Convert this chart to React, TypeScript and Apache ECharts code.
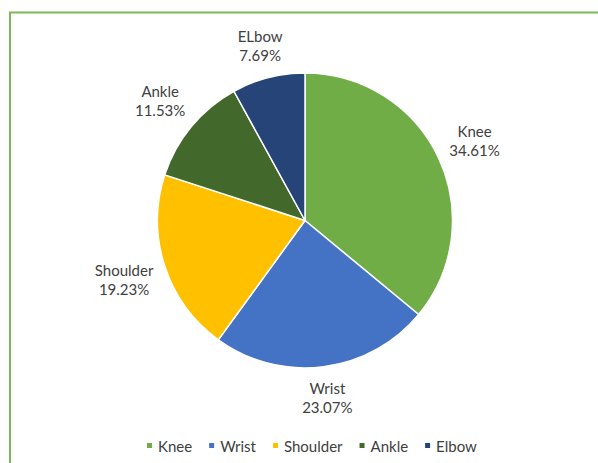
import React, { useEffect, useRef } from "react";
import * as echarts from "echarts";

const categories = ["Knee", "Wrist", "Shoulder", "Ankle", "Elbow"];
const labelNames = ["Knee", "Wrist", "Shoulder", "Ankle", "ELbow"];
const values = [34.61, 23.07, 19.23, 11.53, 7.69];
const colors = ["#70AD47", "#4472C4", "#FFC000", "#43682B", "#264478"];

const CX = 305;
const CY = 220.5;
const R = 147.5;
const GAP = 9;
const FONT = "Lato, 'Open Sans', sans-serif";

export default function App() {
  const ref = useRef<HTMLDivElement>(null);
  useEffect(() => {
    if (!ref.current) return;
    const chart = echarts.init(ref.current, undefined, { renderer: "svg" });
    const total = values.reduce((a, b) => a + b, 0);
    chart.setOption({
      animation: false,
      backgroundColor: "#ffffff",
      color: colors,
      graphic: [
        {
          type: "polyline",
          silent: true,
          shape: { points: [[10, 463], [10, 12.5], [598, 12.5]] },
          style: { stroke: "#7CB956", lineWidth: 2, fill: "none" },
        },
      ],
      legend: {
        data: categories,
        left: 140,
        top: 433,
        itemWidth: 7,
        itemHeight: 7,
        itemGap: 15,
        icon: "rect",
        textStyle: { fontFamily: FONT, fontSize: 15, color: "#404040" },
      },
      series: [
        {
          type: "pie",
          center: [CX, CY],
          radius: R,
          startAngle: 90,
          clockwise: true,
          itemStyle: { borderColor: "#ffffff", borderWidth: 1.5 },
          emphasis: { disabled: true },
          label: {
            show: true,
            position: "outside",
            formatter: (p: any) => `${labelNames[p.dataIndex]}\n${values[p.dataIndex]}%`,
            fontFamily: FONT,
            fontSize: 15,
            lineHeight: 19,
            color: "#404040",
            align: "center",
          },
          labelLine: { show: false },
          labelLayout: (p: any) => {
            const i = p.dataIndex;
            let before = 0;
            for (let j = 0; j < i; j++) before += values[j];
            const mid = ((before + values[i] / 2) / total) * Math.PI * 2;
            const ux = Math.sin(mid);
            const uy = -Math.cos(mid);
            const w = p.labelRect.width;
            const h = p.labelRect.height;
            const d = R + GAP + (Math.abs(ux) * w) / 2 + (Math.abs(uy) * h) / 2;
            return { x: CX + d * ux, y: CY + d * uy, align: "center", verticalAlign: "middle" };
          },
          data: categories.map((name, i) => ({ name, value: values[i] })),
        },
      ],
    });
    return () => chart.dispose();
  }, []);
  return (
    <div
      ref={ref}
      style={{ position: "fixed", left: 0, top: 0, width: 598, height: 463 }}
    />
  );
}
